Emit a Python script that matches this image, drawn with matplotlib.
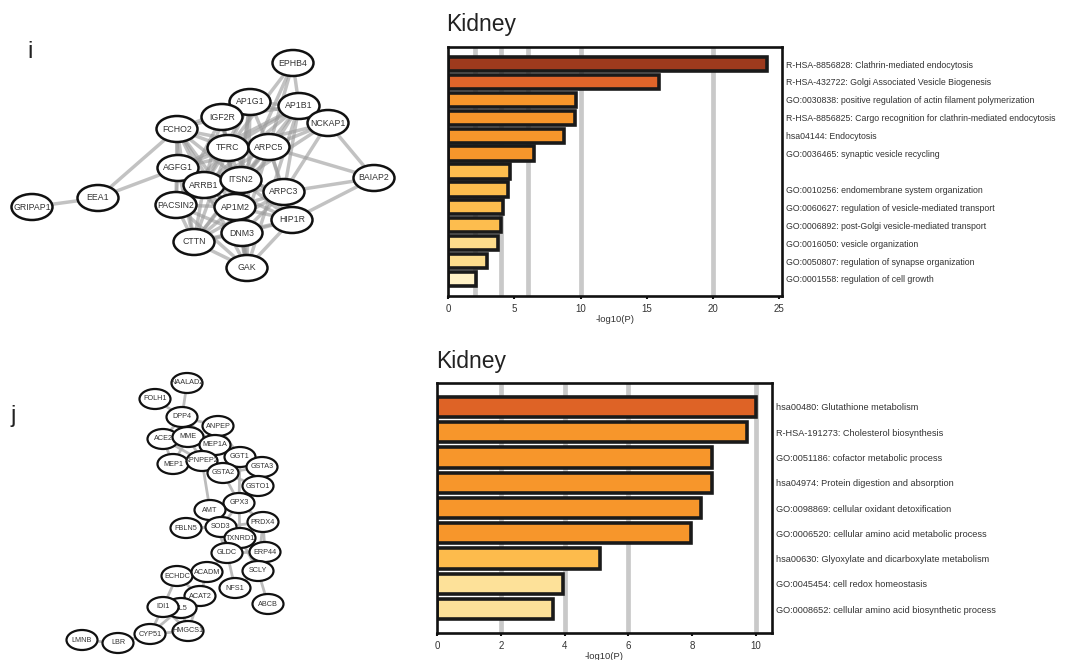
import matplotlib
matplotlib.use("Agg")
import matplotlib.pyplot as plt
from matplotlib.patches import Ellipse

plt.rcParams['font.family'] = ['Liberation Sans', 'DejaVu Sans']

# ---------------- enrichment results ----------------
kidney_i_terms = [
    "R-HSA-8856828: Clathrin-mediated endocytosis",
    "R-HSA-432722: Golgi Associated Vesicle Biogenesis",
    "GO:0030838: positive regulation of actin filament polymerization",
    "R-HSA-8856825: Cargo recognition for clathrin-mediated endocytosis",
    "hsa04144: Endocytosis",
    "GO:0036465: synaptic vesicle recycling",
    "",
    "GO:0010256: endomembrane system organization",
    "GO:0060627: regulation of vesicle-mediated transport",
    "GO:0006892: post-Golgi vesicle-mediated transport",
    "GO:0016050: vesicle organization",
    "GO:0050807: regulation of synapse organization",
    "GO:0001558: regulation of cell growth",
]
kidney_i_values = [24.05, 15.95, 9.62, 9.57, 8.73, 6.46, 4.66, 4.56, 4.13, 3.97, 3.75, 2.96, 2.15]
kidney_i_colors = ["#9e3a1d", "#e0652a", "#f7962b", "#f7962b", "#f7962b", "#f7962b",
                   "#fdbd4e", "#fdbd4e", "#fdbd4e", "#fdbd4e", "#fddc8c", "#fddc8c", "#fff1c6"]
kidney_i_refs = [2, 4, 6, 10, 20]
kidney_i_ticks = [0, 5, 10, 15, 20, 25]

kidney_j_terms = [
    "hsa00480: Glutathione metabolism",
    "R-HSA-191273: Cholesterol biosynthesis",
    "GO:0051186: cofactor metabolic process",
    "hsa04974: Protein digestion and absorption",
    "GO:0098869: cellular oxidant detoxification",
    "GO:0006520: cellular amino acid metabolic process",
    "hsa00630: Glyoxylate and dicarboxylate metabolism",
    "GO:0045454: cell redox homeostasis",
    "GO:0008652: cellular amino acid biosynthetic process",
]
kidney_j_values = [10.0, 9.73, 8.61, 8.62, 8.29, 7.96, 5.1, 3.95, 3.64]
kidney_j_colors = ["#de6326", "#f7962b", "#f7962b", "#f7962b", "#f7962b", "#f7962b",
                   "#fdbb4c", "#fde199", "#fde199"]
kidney_j_refs = [2, 4, 6, 10]
kidney_j_ticks = [0, 2, 4, 6, 8, 10]

# ---------------- interaction networks ----------------
net_i_nodes = ["GRIPAP1", "EEA1", "EPHB4", "AP1G1", "AP1B1", "IGF2R", "NCKAP1", "FCHO2",
               "TFRC", "ARPC5", "AGFG1", "BAIAP2", "ARRB1", "ITSN2", "ARPC3", "PACSIN2",
               "AP1M2", "HIP1R", "DNM3", "CTTN", "GAK"]
net_i_edges = [
    ("GRIPAP1", "EEA1"), ("EEA1", "FCHO2"), ("EEA1", "AGFG1"),
    ("EPHB4", "AP1B1"), ("EPHB4", "ARPC5"), ("EPHB4", "TFRC"), ("EPHB4", "ITSN2"),
    ("AP1G1", "AP1B1"), ("AP1G1", "IGF2R"), ("AP1G1", "TFRC"), ("AP1G1", "ARPC5"),
    ("AP1G1", "ITSN2"), ("AP1G1", "AP1M2"), ("AP1G1", "ARRB1"), ("AP1G1", "FCHO2"),
    ("AP1G1", "GAK"), ("AP1G1", "NCKAP1"),
    ("AP1B1", "IGF2R"), ("AP1B1", "TFRC"), ("AP1B1", "AP1M2"), ("AP1B1", "ARRB1"),
    ("AP1B1", "ITSN2"), ("AP1B1", "AGFG1"), ("AP1B1", "ARPC3"), ("AP1B1", "GAK"),
    ("NCKAP1", "BAIAP2"), ("NCKAP1", "ARPC5"), ("NCKAP1", "ARPC3"), ("NCKAP1", "ITSN2"),
    ("NCKAP1", "TFRC"),
    ("IGF2R", "TFRC"), ("IGF2R", "AP1M2"), ("IGF2R", "ARRB1"), ("IGF2R", "PACSIN2"),
    ("IGF2R", "DNM3"), ("IGF2R", "FCHO2"), ("IGF2R", "GAK"),
    ("FCHO2", "TFRC"), ("FCHO2", "ITSN2"), ("FCHO2", "AGFG1"), ("FCHO2", "ARRB1"),
    ("FCHO2", "PACSIN2"), ("FCHO2", "AP1M2"), ("FCHO2", "DNM3"), ("FCHO2", "ARPC5"),
    ("FCHO2", "CTTN"),
    ("TFRC", "ARPC5"), ("TFRC", "AGFG1"), ("TFRC", "ITSN2"), ("TFRC", "ARRB1"),
    ("TFRC", "AP1M2"), ("TFRC", "DNM3"), ("TFRC", "PACSIN2"), ("TFRC", "HIP1R"),
    ("TFRC", "CTTN"), ("TFRC", "GAK"),
    ("ARPC5", "ITSN2"), ("ARPC5", "ARPC3"), ("ARPC5", "BAIAP2"), ("ARPC5", "CTTN"),
    ("ARPC5", "HIP1R"), ("ARPC5", "ARRB1"), ("ARPC5", "DNM3"), ("ARPC5", "AGFG1"),
    ("AGFG1", "ARRB1"), ("AGFG1", "ITSN2"), ("AGFG1", "PACSIN2"), ("AGFG1", "AP1M2"),
    ("AGFG1", "DNM3"), ("AGFG1", "CTTN"), ("AGFG1", "HIP1R"),
    ("ARRB1", "ITSN2"), ("ARRB1", "AP1M2"), ("ARRB1", "PACSIN2"), ("ARRB1", "DNM3"),
    ("ARRB1", "CTTN"), ("ARRB1", "ARPC3"), ("ARRB1", "GAK"),
    ("ITSN2", "ARPC3"), ("ITSN2", "AP1M2"), ("ITSN2", "DNM3"), ("ITSN2", "PACSIN2"),
    ("ITSN2", "HIP1R"), ("ITSN2", "CTTN"), ("ITSN2", "GAK"),
    ("ARPC3", "BAIAP2"), ("ARPC3", "HIP1R"), ("ARPC3", "CTTN"), ("ARPC3", "AP1M2"),
    ("ARPC3", "DNM3"),
    ("PACSIN2", "AP1M2"), ("PACSIN2", "DNM3"), ("PACSIN2", "CTTN"), ("PACSIN2", "GAK"),
    ("AP1M2", "DNM3"), ("AP1M2", "HIP1R"), ("AP1M2", "GAK"), ("AP1M2", "CTTN"),
    ("HIP1R", "BAIAP2"), ("HIP1R", "DNM3"), ("HIP1R", "GAK"), ("HIP1R", "CTTN"),
    ("DNM3", "CTTN"), ("DNM3", "GAK"), ("CTTN", "GAK"),
]

net_j_nodes = ["NAALAD2", "FOLH1", "DPP4", "ANPEP", "ACE2", "MME", "MEP1A", "GGT1",
               "MEP1", "XPNPEP2", "GSTA3", "GSTA2", "GSTO1", "GPX3", "AMT", "PRDX4",
               "FBLN5", "SOD3", "TXNRD1", "ERP44", "GLDC", "ECHDC", "ACADM", "SCLY",
               "NFS1", "ACAT2", "ABCB", "SL5", "IDI1", "HMGCS1", "CYP51", "LBR", "LMNB"]
net_j_edges = [
    ("NAALAD2", "DPP4"), ("FOLH1", "DPP4"), ("DPP4", "ACE2"), ("DPP4", "ANPEP"),
    ("DPP4", "MME"), ("DPP4", "MEP1A"), ("ACE2", "MME"), ("ANPEP", "MEP1A"),
    ("MME", "MEP1A"), ("ACE2", "MEP1"), ("MME", "XPNPEP2"), ("MEP1A", "XPNPEP2"),
    ("MEP1", "XPNPEP2"), ("ACE2", "XPNPEP2"), ("MME", "MEP1"), ("ANPEP", "GGT1"),
    ("GGT1", "GSTA2"), ("GGT1", "GSTA3"), ("GSTA2", "GSTA3"), ("GSTA2", "GSTO1"),
    ("GSTA3", "GSTO1"), ("GGT1", "GPX3"), ("GSTA2", "GPX3"), ("XPNPEP2", "AMT"),
    ("GPX3", "SOD3"), ("GPX3", "PRDX4"), ("GPX3", "TXNRD1"), ("GSTO1", "GPX3"),
    ("SOD3", "FBLN5"), ("SOD3", "PRDX4"), ("SOD3", "TXNRD1"), ("AMT", "GLDC"),
    ("PRDX4", "ERP44"), ("TXNRD1", "ERP44"), ("TXNRD1", "GLDC"), ("GLDC", "ERP44"),
    ("GLDC", "ACADM"), ("ACADM", "ACAT2"), ("ECHDC", "ACAT2"), ("GLDC", "NFS1"),
    ("NFS1", "SCLY"), ("SCLY", "ABCB"), ("TXNRD1", "SCLY"), ("PRDX4", "SCLY"),
    ("ACAT2", "SL5"), ("ACAT2", "HMGCS1"), ("IDI1", "SL5"), ("IDI1", "CYP51"),
    ("SL5", "CYP51"), ("SL5", "HMGCS1"), ("IDI1", "HMGCS1"), ("CYP51", "HMGCS1"),
    ("CYP51", "LBR"), ("LBR", "LMNB"), ("ECHDC", "IDI1"),
]

# Node layout (figure pixels, y downward)
layout_i = {
    "EPHB4": (293, 63), "AP1G1": (250, 102), "AP1B1": (299, 106), "IGF2R": (222, 117),
    "NCKAP1": (328, 123), "FCHO2": (177, 129), "TFRC": (228, 148), "ARPC5": (269, 147),
    "AGFG1": (178, 168), "BAIAP2": (374, 178), "ARRB1": (204, 185), "ITSN2": (241, 180),
    "ARPC3": (284, 192), "EEA1": (98, 198), "GRIPAP1": (32, 207), "PACSIN2": (176, 205),
    "AP1M2": (235, 207), "HIP1R": (292, 220), "DNM3": (242, 233), "CTTN": (194, 242),
    "GAK": (247, 268),
}
layout_j = {
    "NAALAD2": (187, 383), "FOLH1": (155, 399), "DPP4": (182, 417), "ANPEP": (218, 426),
    "ACE2": (163, 439), "MME": (188, 437), "MEP1A": (215, 445), "GGT1": (240, 457),
    "MEP1": (173, 464), "XPNPEP2": (202, 461), "GSTA3": (262, 467), "GSTA2": (223, 473),
    "GSTO1": (258, 486), "GPX3": (239, 503), "AMT": (210, 510), "PRDX4": (263, 522),
    "FBLN5": (186, 528), "SOD3": (221, 527), "TXNRD1": (240, 538), "ERP44": (265, 552),
    "GLDC": (227, 553), "ECHDC": (177, 576), "ACADM": (207, 572), "SCLY": (258, 571),
    "NFS1": (235, 588), "ACAT2": (200, 596), "ABCB": (268, 604), "SL5": (181, 608),
    "IDI1": (163, 607), "HMGCS1": (188, 631), "CYP51": (150, 634), "LBR": (118, 643),
    "LMNB": (82, 640),
}

W, H = 1075, 660
fig = plt.figure(figsize=(W / 100, H / 100), dpi=100)

# Canvas in pixel units for the two networks
net = fig.add_axes([0, 0, 1, 1])
net.set_xlim(0, W)
net.set_ylim(H, 0)
net.axis("off")


def draw_network(ax, nodes, edges, pos, ew, eh, fsize, lw_edge, lw_node, ecolor, ealpha):
    for a, b in edges:
        (x1, y1), (x2, y2) = pos[a], pos[b]
        ax.plot([x1, x2], [y1, y2], color=ecolor, lw=lw_edge, alpha=ealpha,
                solid_capstyle="butt", zorder=1)
    z = 2
    for n in nodes:
        x, y = pos[n]
        ax.add_patch(Ellipse((x, y), ew, eh, facecolor="white", edgecolor="#111111",
                             lw=lw_node, zorder=z))
        ax.text(x, y, n, ha="center", va="center", fontsize=fsize, color="#333333",
                zorder=z + 1)
        z += 2


draw_network(net, net_i_nodes, net_i_edges, layout_i, 41, 26, 6.3, 2.5, 1.8, "#9a9a9a", 0.6)
draw_network(net, net_j_nodes, net_j_edges, layout_j, 31, 20, 5.2, 2.0, 1.6, "#b5b5b5", 0.9)

# panel letters
fig.text(27 / W, 1 - 58 / H, "i", fontsize=17, color="#222222", ha="left", va="baseline")
fig.text(11 / W, 1 - 422 / H, "j", fontsize=17, color="#222222", ha="left", va="baseline")


def bar_panel(rect, terms, values, colors, refs, ticks, xmax, label_size, title, title_xy):
    ax = fig.add_axes([rect[0] / W, 1 - rect[3] / H, (rect[2] - rect[0]) / W,
                       (rect[3] - rect[1]) / H])
    n = len(values)
    ypos = list(range(n))
    for r in refs:
        ax.axvline(r, color="#c9c9c9", lw=3.4, zorder=0)
    ax.barh(ypos, values, height=0.8, color=colors, edgecolor="#1a1a1a",
            linewidth=2.6, zorder=2)
    ax.set_xlim(0, xmax)
    ax.set_ylim(n - 1 + 0.95, -0.95)
    ax.set_xticks(ticks)
    ax.set_xticklabels([str(t) for t in ticks])
    ax.tick_params(axis="x", length=2.5, width=1.5, pad=3, labelsize=7,
                   labelcolor="#333333", color="#111111")
    ax.set_yticks(ypos)
    ax.set_yticklabels(terms)
    ax.yaxis.tick_right()
    ax.tick_params(axis="y", length=0, pad=3, labelsize=label_size, labelcolor="#333333")
    for s in ax.spines.values():
        s.set_linewidth(1.9)
        s.set_color("#111111")
    ax.set_xlabel("-log10(P)", fontsize=6.8, color="#333333", labelpad=1)
    fig.text(title_xy[0] / W, 1 - title_xy[1] / H, title, fontsize=16.5,
             color="#222222", ha="left", va="baseline")
    return ax


bar_panel((448, 47, 782, 296), kidney_i_terms, kidney_i_values, kidney_i_colors,
          kidney_i_refs, kidney_i_ticks, 25.2, 6.3, "Kidney", (446, 31))
bar_panel((437, 383, 772, 633), kidney_j_terms, kidney_j_values, kidney_j_colors,
          kidney_j_refs, kidney_j_ticks, 10.5, 6.6, "Kidney", (436, 368))

fig.savefig("out.png", dpi=100, facecolor="white")
